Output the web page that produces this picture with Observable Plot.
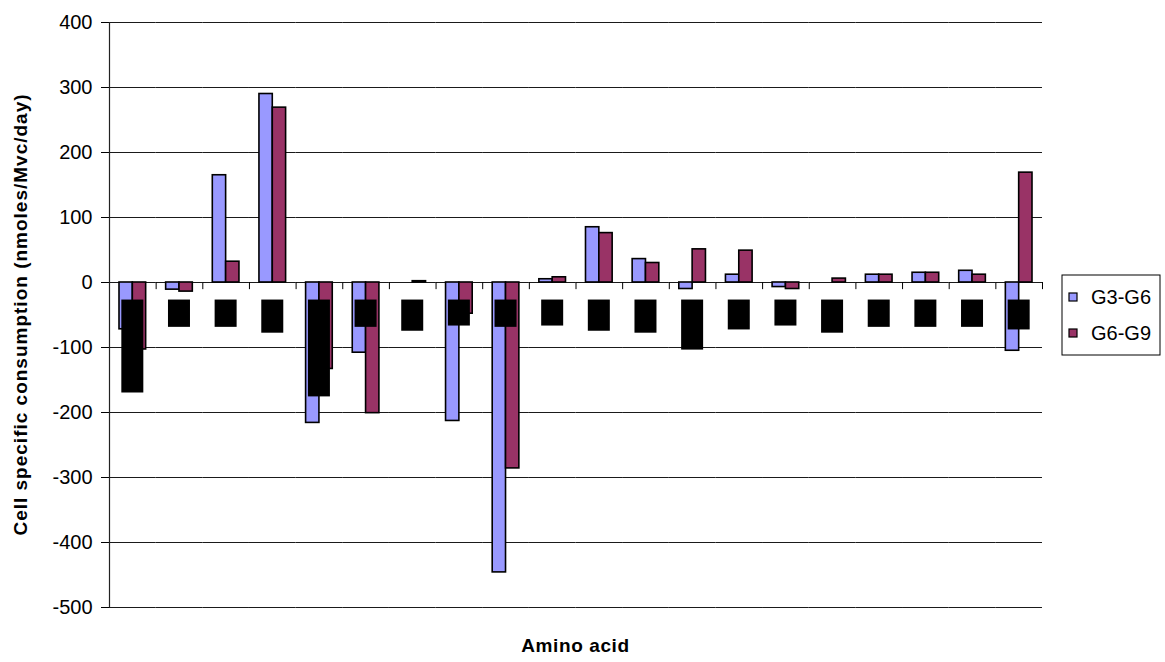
<!DOCTYPE html>
<html><head><meta charset="utf-8">
<script src="https://cdn.jsdelivr.net/npm/d3@7"></script>
<script src="https://cdn.jsdelivr.net/npm/@observablehq/plot@0.6"></script>
<style>
body{margin:0;background:#fff;}
#chart{width:1165px;height:662px;}
</style>
</head><body><div id="chart"></div>
<script>
// Category labels are obscured (black boxes) in the reference
const categories = ["AA1","AA2","AA3","AA4","AA5","AA6","AA7","AA8","AA9","AA10",
                    "AA11","AA12","AA13","AA14","AA15","AA16","AA17","AA18","AA19","AA20"];
const seriesNames = ["G3-G6","G6-G9"];
const g3g6 = [-72, -11, 165, 290, -216, -108, 0, -213, -446, 5, 85, 36, -10, 12, -7, 0, 12, 15, 18, -105];
const g6g9 = [-103, -14, 32, 269, -133, -201, 2, -48, -286, 8, 76, 30, 51, 49, -10, 6, 12, 15, 12, 169];
// bottoms of the black label boxes (value units)
const labelBoxBottom = [-170, -69, -69, -78, -176, -69, -75, -67, -69, -67, -75, -78, -104, -73, -67, -78, -69, -69, -69, -73];
const labelBoxTop = -27;
const yTicks = [400, 300, 200, 100, 0, -100, -200, -300, -400, -500];
const yTitle = "Cell specific consumption (nmoles/Mvc/day)";
const xTitle = "Amino acid";

const W = 1165, H = 662, mL = 109, mR = 123, mT = 22, mB = 55;
const band = (W - mL - mR) / categories.length;
const step = band / 3.5;
const boxW = 22;

const rows = categories.flatMap((c, i) => [
  {cat: c, series: seriesNames[0], value: g3g6[i]},
  {cat: c, series: seriesNames[1], value: g6g9[i]}
]);
const boxes = categories.map((c, i) => ({cat: c, bottom: labelBoxBottom[i]}));
const colors = ["#9999FF", "#993366"];

const plot = Plot.plot({
  width: W, height: H,
  marginLeft: mL, marginRight: mR, marginTop: mT, marginBottom: mB,
  style: {fontFamily: "'Liberation Sans', Arial, sans-serif", fontSize: "20px", color: "black", background: "white", overflow: "visible"},
  fx: {domain: categories, padding: 0, round: false, axis: null, label: null},
  x: {domain: seriesNames, paddingInner: 0, paddingOuter: 0.75, round: false, axis: null},
  y: {domain: [-500, 400], ticks: yTicks, tickSize: 8, tickPadding: 9, tickFormat: d => String(d), label: null},
  color: {domain: seriesNames, range: colors},
  marks: [
    Plot.ruleY(yTicks, {stroke: "#1a1a1a", strokeWidth: 1}),
    Plot.barY(rows, {fx: "cat", x: "series", y: "value", fill: "series", stroke: "black", strokeWidth: 1.6}),
    Plot.rect(boxes, {fx: "cat", y1: () => labelBoxTop, y2: "bottom", fill: "black",
      insetLeft: (band - boxW) / 2, insetRight: (band - boxW) / 2}),
    // category boundary ticks on the zero line
    Plot.ruleX(categories, {fx: d => d, x: () => seriesNames[0], y1: () => 0, y2: () => -11, dx: -1.25 * step, stroke: "black"}),
    Plot.ruleX([categories[categories.length - 1]], {fx: d => d, x: () => seriesNames[1], y1: () => 0, y2: () => -11, dx: 1.25 * step, stroke: "black"}),
    // y axis line
    Plot.ruleX([categories[0]], {fx: d => d, x: () => seriesNames[0], y1: () => -500, y2: () => 400, dx: -1.25 * step, stroke: "#222", strokeWidth: 1.2})
  ]
});

const svg = d3.select(plot);
svg.append("text")
  .attr("transform", `translate(27,${(mT + H - mB) / 2}) rotate(-90)`)
  .attr("text-anchor", "middle")
  .style("font", "bold 19px 'Liberation Sans', Arial, sans-serif")
  .style("letter-spacing", "1px")
  .text(yTitle);
svg.append("text")
  .attr("x", mL + (W - mL - mR) / 2)
  .attr("y", 652)
  .attr("text-anchor", "middle")
  .style("font", "bold 19px 'Liberation Sans', Arial, sans-serif")
  .style("letter-spacing", "0.6px")
  .text(xTitle);

// legend
const lg = svg.append("g").attr("transform", "translate(1062,275)");
lg.append("rect").attr("x", 0).attr("y", 0).attr("width", 98).attr("height", 80)
  .attr("fill", "white").attr("stroke", "black").attr("stroke-width", 1);
seriesNames.forEach((s, i) => {
  const g = lg.append("g").attr("transform", `translate(0,${22 + i * 36})`);
  g.append("rect").attr("x", 7).attr("y", -4).attr("width", 8).attr("height", 8)
    .attr("fill", colors[i]).attr("stroke", "black").attr("stroke-width", 1.2);
  g.append("text").attr("x", 29).attr("y", 7).attr("text-anchor", "start")
    .style("font", "20px 'Liberation Sans', Arial, sans-serif").text(s);
});

document.getElementById("chart").appendChild(plot);
</script>
</body></html>
